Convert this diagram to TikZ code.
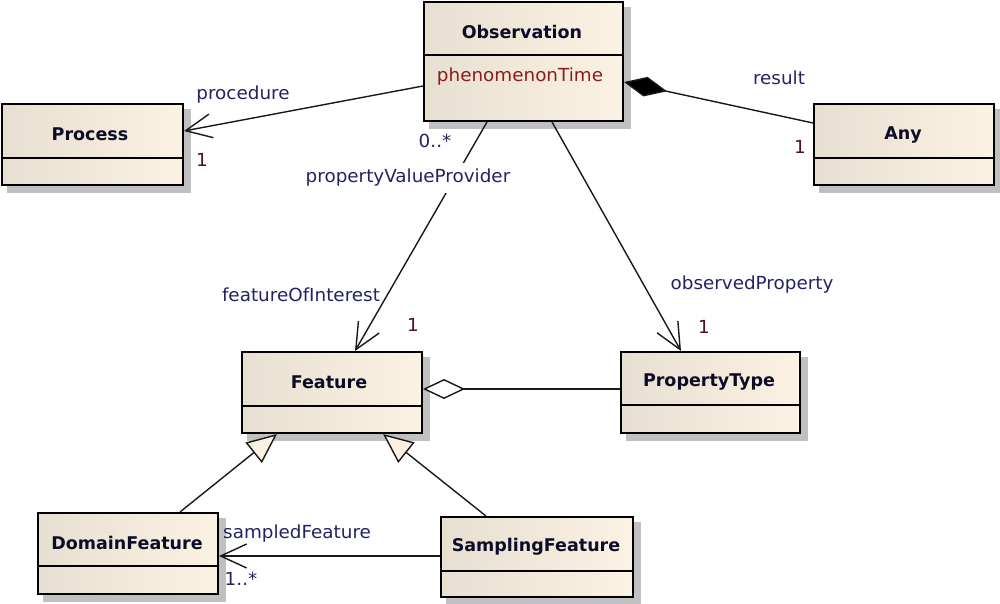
\documentclass[tikz,border=0pt]{standalone}
\usepackage{fontspec}
\setmainfont{DejaVu Sans}
\newfontfamily\lblfont[FakeStretch=1.02]{DejaVu Sans}
\usetikzlibrary{arrows.meta,calc,backgrounds}
\definecolor{boxL}{RGB}{231,223,209}
\definecolor{boxR}{RGB}{251,242,227}
\definecolor{shadowc}{RGB}{192,192,192}
\definecolor{lblc}{RGB}{35,35,100}
\definecolor{namec}{RGB}{12,12,40}
\definecolor{attrc}{RGB}{140,28,28}
\definecolor{multc}{RGB}{80,12,45}
\definecolor{trifill}{RGB}{250,241,226}
\begin{document}
\begin{tikzpicture}[x=1pt,y=-1pt,
  classbox/.style={draw=black,line width=2pt,left color=boxL,right color=boxR,anchor=north west,inner sep=0pt},
  divline/.style={draw=black,line width=2pt},
  clsname/.style={font=\fontsize{17.5}{20}\selectfont\bfseries,text=namec,inner sep=0pt},
  lbl/.style={font=\lblfont\fontsize{18}{21}\selectfont,text=lblc,inner sep=1pt},
  mult/.style={font=\lblfont\fontsize{18}{21}\selectfont,text=multc,inner sep=1pt},
  conn/.style={draw=black!90,line width=1.4pt},
  assoc/.style={conn,-{Straight Barb[length=26pt,width=24pt]}},
  compo/.style={conn,{Diamond[length=44pt,width=20pt,fill=black]}-},
  aggr/.style={conn,{Diamond[length=42pt,width=20pt,fill=white]}-},
  gener/.style={conn,-{Triangle[length=30pt,width=26pt,fill=trifill]}}
]
\useasboundingbox (0,0) rectangle (1000,604);

% class boxes
\node[classbox,minimum width=199pt,minimum height=119pt] (obs) at (423,1) {};
\node[classbox,minimum width=181pt,minimum height=81pt] (proc) at (1,103) {};
\node[classbox,minimum width=180pt,minimum height=81pt] (any) at (813,103) {};
\node[classbox,minimum width=180pt,minimum height=81pt] (feat) at (241,351) {};
\node[classbox,minimum width=179pt,minimum height=81pt] (prop) at (620,351) {};
\node[classbox,minimum width=180pt,minimum height=81pt] (dom) at (37,512) {};
\node[classbox,minimum width=192pt,minimum height=80pt] (samp) at (440,516) {};

\begin{scope}[on background layer]
\fill[white] (0,0) rectangle (1000,604);
\foreach \n in {obs,proc,any,feat,prop,dom,samp}
  \fill[shadowc] ($(\n.south west)+(6pt,-7pt)$) rectangle ($(\n.north east)+(7pt,-6pt)$);
\end{scope}

% compartment dividers
\draw[divline] (obs.west |- 0,55) -- (obs.east |- 0,55);
\draw[divline] (proc.west |- 0,158) -- (proc.east |- 0,158);
\draw[divline] (any.west |- 0,158) -- (any.east |- 0,158);
\draw[divline] (feat.west |- 0,406) -- (feat.east |- 0,406);
\draw[divline] (prop.west |- 0,405) -- (prop.east |- 0,405);
\draw[divline] (dom.west |- 0,566) -- (dom.east |- 0,566);
\draw[divline] (samp.west |- 0,571) -- (samp.east |- 0,571);

% class names
\node[clsname] (obsN) at (522,32) {Observation};
\node[lbl,text=attrc] (obsA) at (520,77) {phenomenonTime};
\node[clsname] (procN) at (90,134) {Process};
\node[clsname] (anyN) at (903,135) {Any};
\node[clsname] (featN) at (329,382) {Feature};
\node[clsname] (propN) at (709,382) {PropertyType};
\node[clsname] (domN) at (127,543) {DomainFeature};
\node[clsname] (sampN) at (536,547) {SamplingFeature};

% connectors
\draw[assoc] (obs.west |- 0,86) -- (proc.east |- 0,131);
\draw[compo] (obs.east |- 0,82) -- (any.west |- 0,123);
\draw[assoc] (487,0 |- obs.south) -- (355,0 |- feat.north);
\draw[assoc] (552,0 |- obs.south) -- (681,0 |- prop.north);
\draw[aggr] (feat.east |- 0,389) -- (prop.west |- 0,389);
\draw[gener] (180,0 |- dom.north) -- (277,0 |- feat.south);
\draw[gener] (486,0 |- samp.north) -- (383,0 |- feat.south);
\draw[assoc] (samp.west |- 0,556) -- (dom.east |- 0,556);

% connector labels
\node[lbl] (lProc) at (243,95) {procedure};
\node[mult] (mProc) at (202,160) {1};
\node[lbl] (lRes) at (779,78) {result};
\node[mult] (mAny) at (800,147) {1};
\node[lbl] (mObs) at (435,141) {0..*};
\node[lbl,fill=white,inner ysep=6pt] (lPvp) at (408,178) {propertyValueProvider};
\node[lbl] (lFoi) at (301,295) {featureOfInterest};
\node[mult] (mFeat) at (413,325) {1};
\node[lbl] (lObsP) at (752,285) {observedProperty};
\node[mult] (mProp) at (704,327) {1};
\node[lbl,anchor=west] (lSamp) at (222,534) {sampledFeature};
\node[lbl] (mDom) at (241,579) {1..*};
\end{tikzpicture}
\end{document}
